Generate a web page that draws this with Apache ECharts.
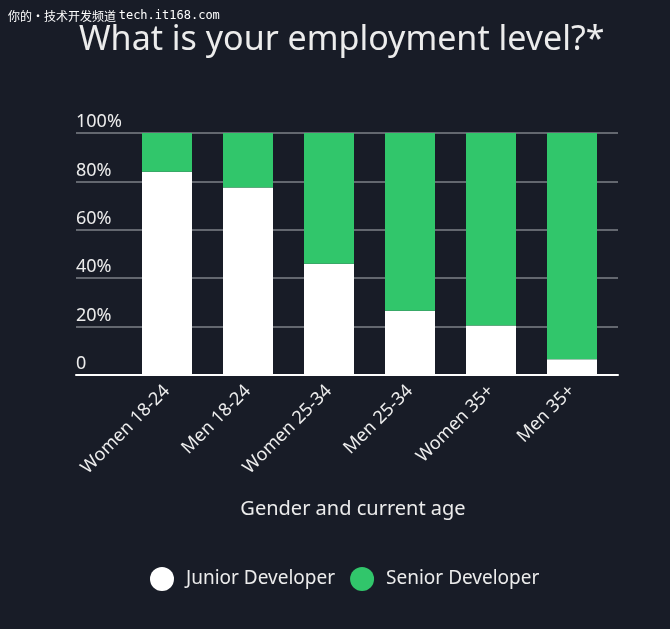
<!DOCTYPE html>
<html><head><meta charset="utf-8">
<script src="https://cdn.jsdelivr.net/npm/echarts@6/dist/echarts.min.js"></script>
<style>html,body{margin:0;padding:0;background:#181c27;}#c{width:670px;height:629px;}</style>
</head><body><div id="c"></div>
<script>
const categories = ['Women 18-24','Men 18-24','Women 25-34','Men 25-34','Women 35+','Men 35+'];
const junior = [84, 77.5, 46, 26.5, 20.5, 6.5];
const senior = [16, 22.5, 54, 73.5, 79.5, 93.5];
const yTicks = ['0','20%','40%','60%','80%','100%'];
const seriesNames = ['Junior Developer','Senior Developer'];

const font = 'Noto Sans';
const chart = echarts.init(document.getElementById('c'), null, {renderer:'canvas'});
chart.setOption({
  backgroundColor:'#181c27',
  textStyle:{fontFamily:font},
  title:{text:'What is your employment level?*', left:74, top:18,
    textStyle:{color:'#ececec', fontSize:34, fontWeight:'normal', fontFamily:font}},
  graphic:[{type:'text', left:8, top:10, style:{
    text:'{a|你的•技术开发频道 }{b|tech.it168.com}',
    rich:{a:{fill:'#ffffff', font:'12px "Noto Sans CJK SC"'}, b:{fill:'#ffffff', font:'12px "DejaVu Sans Mono"'}}}}],
  legend:{top:562, left:145, icon:'circle', itemWidth:24, itemHeight:24, itemGap:15,
    textStyle:{color:'#ececec', fontSize:19, fontFamily:font, padding:[0,0,0,7]}, data:seriesNames},
  grid:[
    {left:76, right:52, top:133, bottom:254},
    {left:126.5, right:57.5, top:133, bottom:254}
  ],
  xAxis:[
    {gridIndex:0, type:'value', min:0, max:1, axisLabel:{show:false}, axisTick:{show:false}, splitLine:{show:false},
      axisLine:{show:true, lineStyle:{color:'#ffffff', width:2}},
      name:'Gender and current age', nameLocation:'middle', nameGap:124,
      nameTextStyle:{color:'#ececec', fontSize:20, fontFamily:font, padding:[0,0,0,12]}},
    {gridIndex:1, type:'category', data:categories, axisLine:{show:false}, axisTick:{show:false},
      axisLabel:{rotate:45, color:'#ececec', fontSize:18, margin:13, fontFamily:font}}
  ],
  yAxis:[
    {gridIndex:0, type:'value', min:0, max:100, interval:20,
      axisLine:{show:false}, axisTick:{show:false},
      splitLine:{lineStyle:{color:'#7d8088', width:1.5}},
      axisLabel:{inside:true, margin:0, verticalAlign:'bottom', padding:[0,0,2,0], color:'#ececec', fontSize:18, fontFamily:font,
        formatter:(v)=>yTicks[Math.round(v/20)]}},
    {gridIndex:1, type:'value', min:0, max:100, show:false, splitLine:{show:false}}
  ],
  series:[
    {name:seriesNames[0], type:'bar', stack:'a', xAxisIndex:1, yAxisIndex:1, data:junior, barWidth:50,
      itemStyle:{color:'#ffffff'}},
    {name:seriesNames[1], type:'bar', stack:'a', xAxisIndex:1, yAxisIndex:1, data:senior, barWidth:50,
      itemStyle:{color:'#31c66b'}}
  ]
});
</script></body></html>
